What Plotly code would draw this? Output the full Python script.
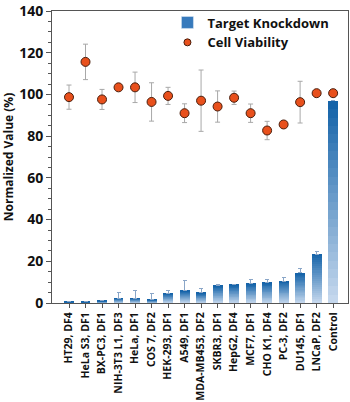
import plotly.graph_objects as go

cells = ["HT29, DF4", "HeLa S3, DF1", "BX-PC3, DF1", "NIH-3T3 L1, DF3", "HeLa, DF1",
         "COS 7, DF2", "HEK-293, DF1", "A549, DF1", "MDA-MB453, DF2", "SKBR3, DF1",
         "HepG2, DF4", "MCF7, DF1", "CHO K1, DF4", "PC-3, DF2", "DU145, DF1",
         "LNCaP, DF2", "Control"]
knockdown = [0.5, 0.5, 1.0, 2.3, 2.3, 1.6, 4.7, 5.9, 4.8, 8.3, 8.75, 9.3, 9.8, 10.5, 14.5, 23.4, 97.0]
knockdown_err = [0.2, 0.2, 0.3, 2.6, 3.5, 2.8, 1.5, 5.0, 2.2, 0.4, 0.3, 2.0, 1.4, 1.7, 1.9, 1.3, 0.0]
viability = [98.7, 115.6, 97.6, 103.4, 103.4, 96.4, 99.3, 91.0, 97.0, 94.2, 98.4, 91.0, 82.7, 85.6, 96.3, 100.6, 100.6]
viability_err = [5.8, 8.5, 4.8, 0.8, 7.3, 9.2, 4.1, 4.5, 14.7, 7.5, 3.2, 4.4, 4.4, 0.0, 10.0, 0.0, 0.0]

FONT = "Open Sans"
top_rgb = (18, 98, 168)
bot_rgb = (200, 217, 238)
N = 24

fig = go.Figure()

# legend entries
fig.add_trace(go.Bar(x=[None], y=[None], name="Target Knockdown",
                     marker=dict(color="rgb(55,122,188)")))
fig.add_trace(go.Scatter(x=[None], y=[None], mode="markers", name="Cell Viability",
                         marker=dict(size=7, color="#e8501c", line=dict(color="#4a1e0c", width=1))))

# Gradient bars: each bar is split into N stacked slices (bottom light -> top dark)
for k in range(N):
    t = (k + 0.5) / N
    c = tuple(round(bot_rgb[j] + (top_rgb[j] - bot_rgb[j]) * t) for j in range(3))
    last = (k == N - 1)
    fig.add_trace(go.Bar(
        x=cells, y=[v / N for v in knockdown],
        marker=dict(color="rgb(%d,%d,%d)" % c, line=dict(width=0)),
        width=0.6, showlegend=False, hoverinfo="skip" if not last else None,
        error_y=dict(type="data", symmetric=False, array=knockdown_err,
                     arrayminus=[0] * len(knockdown_err), color="#8aa6c8",
                     thickness=1, width=2) if last else None,
    ))

fig.add_trace(go.Scatter(
    x=cells, y=viability, mode="markers", showlegend=False,
    marker=dict(size=9, color="#e8501c", line=dict(color="#4a1e0c", width=1)),
    error_y=dict(type="data", array=viability_err, color="#a8a8a8", thickness=1, width=2.5),
))

fig.update_layout(
    width=350, height=402,
    margin=dict(l=52, r=1, t=7, b=99),
    paper_bgcolor="white", plot_bgcolor="white",
    barmode="stack", bargap=0.4,
    font=dict(family=FONT, color="#111"),
    legend=dict(x=0.39, y=1.012, xanchor="left", yanchor="top", traceorder="normal",
                font=dict(family=FONT, size=13, color="#111", weight="bold"),
                bgcolor="rgba(0,0,0,0)", tracegroupgap=0, itemwidth=30),
    xaxis=dict(type="category", range=[-1.03, 16.9], tickangle=-90, automargin=False,
               tickfont=dict(family=FONT, size=10.5, weight="bold", color="#111"),
               showline=True, linecolor="#555", linewidth=1, mirror=True,
               ticks="outside", ticklen=4, tickcolor="#555", showgrid=False),
    yaxis=dict(range=[0, 140], dtick=20, showgrid=False, zeroline=False,
               ticklabeloverflow="allow",
               tickfont=dict(family=FONT, size=14, weight="bold", color="#111"),
               showline=True, linecolor="#555", linewidth=1, mirror=True,
               ticks="outside", ticklen=5, tickcolor="#555",
               minor=dict(dtick=5, ticks="outside", ticklen=3, tickcolor="#555"),
               title=dict(text="Normalized Value (%)", standoff=6,
                          font=dict(family=FONT, size=12, weight="bold", color="#111"))),
)

fig.write_html("out.html")
